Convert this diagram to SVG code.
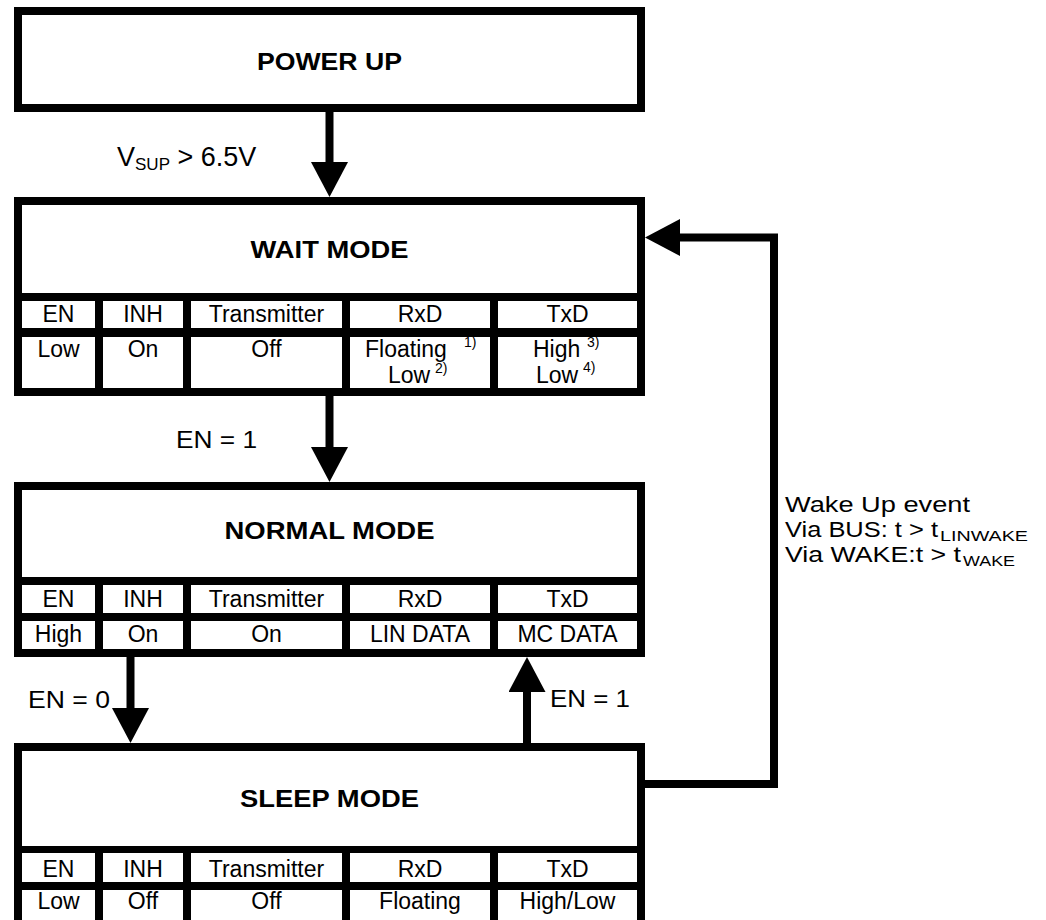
<svg xmlns="http://www.w3.org/2000/svg" width="1046" height="920" viewBox="0 0 1046 920">
<style>
  .frame{fill:#000}
  .cell{fill:#fff}
  .title{font-family:"Liberation Sans",Arial,Helvetica,sans-serif;font-size:23px;font-weight:bold;fill:#000;text-anchor:middle}
  .t{font-family:"Liberation Sans",Arial,Helvetica,sans-serif;font-size:23px;fill:#000;text-anchor:middle}
  .ts{font-family:"Liberation Sans",Arial,Helvetica,sans-serif;font-size:23px;fill:#000}
  .sup{font-family:"Liberation Sans",Arial,Helvetica,sans-serif;font-size:14px;fill:#000}
  .lbl{font-family:"Liberation Sans",Arial,Helvetica,sans-serif;font-size:23px;fill:#000}
  .vsup{font-family:"Liberation Sans",Arial,Helvetica,sans-serif;font-size:27px;fill:#000}
  .wk{font-family:"Liberation Sans",Arial,Helvetica,sans-serif;font-size:22px;fill:#000}
  .wks{font-family:"Liberation Sans",Arial,Helvetica,sans-serif;font-size:15px;fill:#000}
  .conn{fill:none;stroke:#000;stroke-width:8;stroke-linejoin:miter}
</style>
<defs>
  <marker id="head" viewBox="0 0 35 37" refX="0" refY="18.5" markerWidth="35" markerHeight="37" markerUnits="userSpaceOnUse" orient="auto">
    <path d="M0,0 L35,18.5 L0,37 Z" fill="#000"/>
  </marker>
</defs>
<rect width="1046" height="920" fill="#fff"/>

<g id="power-up">
  <rect class="frame" x="14" y="7" width="631" height="105"/>
  <rect class="cell" x="22" y="15" width="615" height="89"/>
  <text class="title" x="329.5" y="70" textLength="145" lengthAdjust="spacingAndGlyphs">POWER UP</text>
</g>

<g id="wait-mode">
  <rect class="frame" x="14" y="197" width="631" height="199"/>
  <rect class="cell" x="22" y="205" width="615" height="88"/>
  <rect class="cell" x="22" y="301" width="73" height="27"/>
  <rect class="cell" x="103" y="301" width="80" height="27"/>
  <rect class="cell" x="191" y="301" width="151" height="27"/>
  <rect class="cell" x="350" y="301" width="140" height="27"/>
  <rect class="cell" x="498" y="301" width="139" height="27"/>
  <rect class="cell" x="22" y="337" width="73" height="51"/>
  <rect class="cell" x="103" y="337" width="80" height="51"/>
  <rect class="cell" x="191" y="337" width="151" height="51"/>
  <rect class="cell" x="350" y="337" width="140" height="51"/>
  <rect class="cell" x="498" y="337" width="139" height="51"/>
  <text class="title" x="329.5" y="258" textLength="158" lengthAdjust="spacingAndGlyphs">WAIT MODE</text>
  <text class="t" x="58.5" y="322">EN</text>
  <text class="t" x="143" y="322">INH</text>
  <text class="t" x="266.5" y="322">Transmitter</text>
  <text class="t" x="420" y="322">RxD</text>
  <text class="t" x="567.5" y="322">TxD</text>
  <text class="t" x="58.5" y="357">Low</text>
  <text class="t" x="143" y="357">On</text>
  <text class="t" x="266.5" y="357">Off</text>
  <text class="ts" x="365" y="357">Floating</text>
  <text class="sup" x="464" y="347">1)</text>
  <text class="ts" x="388" y="383">Low</text>
  <text class="sup" x="435" y="373">2)</text>
  <text class="ts" x="533" y="357">High</text>
  <text class="sup" x="587" y="347">3)</text>
  <text class="ts" x="536" y="383">Low</text>
  <text class="sup" x="583" y="372">4)</text>
</g>

<g id="normal-mode">
  <rect class="frame" x="14" y="482" width="631" height="175"/>
  <rect class="cell" x="22" y="490" width="615" height="87"/>
  <rect class="cell" x="22" y="585" width="73" height="28"/>
  <rect class="cell" x="103" y="585" width="80" height="28"/>
  <rect class="cell" x="191" y="585" width="151" height="28"/>
  <rect class="cell" x="350" y="585" width="140" height="28"/>
  <rect class="cell" x="498" y="585" width="139" height="28"/>
  <rect class="cell" x="22" y="621" width="73" height="28"/>
  <rect class="cell" x="103" y="621" width="80" height="28"/>
  <rect class="cell" x="191" y="621" width="151" height="28"/>
  <rect class="cell" x="350" y="621" width="140" height="28"/>
  <rect class="cell" x="498" y="621" width="139" height="28"/>
  <text class="title" x="329.5" y="539" textLength="210" lengthAdjust="spacingAndGlyphs">NORMAL MODE</text>
  <text class="t" x="58.5" y="607">EN</text>
  <text class="t" x="143" y="607">INH</text>
  <text class="t" x="266.5" y="607">Transmitter</text>
  <text class="t" x="420" y="607">RxD</text>
  <text class="t" x="567.5" y="607">TxD</text>
  <text class="t" x="58.5" y="642">High</text>
  <text class="t" x="143" y="642">On</text>
  <text class="t" x="266.5" y="642">On</text>
  <text class="t" x="420" y="642">LIN DATA</text>
  <text class="t" x="567.5" y="642">MC DATA</text>
</g>

<g id="sleep-mode">
  <rect class="frame" x="14" y="743" width="631" height="190"/>
  <rect class="cell" x="22" y="751" width="615" height="95"/>
  <rect class="cell" x="22" y="853" width="73" height="29"/>
  <rect class="cell" x="103" y="853" width="80" height="29"/>
  <rect class="cell" x="191" y="853" width="151" height="29"/>
  <rect class="cell" x="350" y="853" width="140" height="29"/>
  <rect class="cell" x="498" y="853" width="139" height="29"/>
  <rect class="cell" x="22" y="890" width="73" height="35"/>
  <rect class="cell" x="103" y="890" width="80" height="35"/>
  <rect class="cell" x="191" y="890" width="151" height="35"/>
  <rect class="cell" x="350" y="890" width="140" height="35"/>
  <rect class="cell" x="498" y="890" width="139" height="35"/>
  <text class="title" x="329.5" y="807" textLength="179" lengthAdjust="spacingAndGlyphs">SLEEP MODE</text>
  <text class="t" x="58.5" y="877">EN</text>
  <text class="t" x="143" y="877">INH</text>
  <text class="t" x="266.5" y="877">Transmitter</text>
  <text class="t" x="420" y="877">RxD</text>
  <text class="t" x="567.5" y="877">TxD</text>
  <text class="t" x="58.5" y="909">Low</text>
  <text class="t" x="143" y="909">Off</text>
  <text class="t" x="266.5" y="909">Off</text>
  <text class="t" x="420" y="909">Floating</text>
  <text class="t" x="567.5" y="909">High/Low</text>
</g>

<g id="connectors">
  <line class="conn" x1="329.5" y1="110" x2="329.5" y2="162" marker-end="url(#head)"/>
  <line class="conn" x1="329.5" y1="394" x2="329.5" y2="447" marker-end="url(#head)"/>
  <line class="conn" x1="130.5" y1="655" x2="130.5" y2="708" marker-end="url(#head)"/>
  <line class="conn" x1="527" y1="745" x2="527" y2="692" marker-end="url(#head)"/>
  <polyline class="conn" points="641,784 774,784 774,237.5 680,237.5" marker-end="url(#head)"/>
  <text class="vsup" x="117" y="166">V<tspan style="font-size:17px" dy="4">SUP</tspan><tspan dy="-4"> &gt; 6.5V</tspan></text>
  <text class="lbl" x="176" y="448" textLength="81" lengthAdjust="spacingAndGlyphs">EN = 1</text>
  <text class="lbl" x="28" y="708" textLength="82" lengthAdjust="spacingAndGlyphs">EN = 0</text>
  <text class="lbl" x="550" y="707" textLength="80" lengthAdjust="spacingAndGlyphs">EN = 1</text>
  <text class="wk" x="785" y="512" textLength="185" lengthAdjust="spacingAndGlyphs">Wake Up event</text>
  <text class="wk" x="785" y="537" textLength="153" lengthAdjust="spacingAndGlyphs">Via BUS: t &gt; t</text>
  <text class="wks" x="940" y="541" textLength="88" lengthAdjust="spacingAndGlyphs">LINWAKE</text>
  <text class="wk" x="785" y="562" textLength="176" lengthAdjust="spacingAndGlyphs">Via WAKE:t &gt; t</text>
  <text class="wks" x="963" y="566" textLength="52" lengthAdjust="spacingAndGlyphs">WAKE</text>
</g>
</svg>
